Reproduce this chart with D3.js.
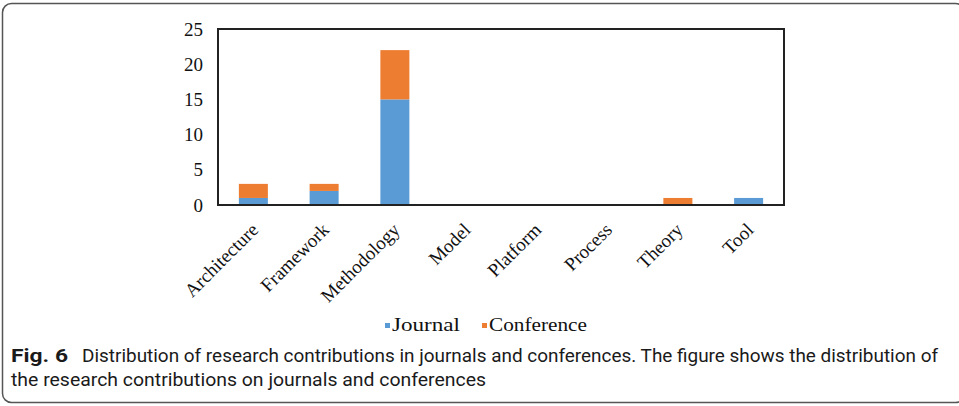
<!DOCTYPE html>
<html>
<head>
<meta charset="utf-8">
<script src="https://cdn.jsdelivr.net/npm/d3@7"></script>
<style>
  body { margin: 0; background: #fff; }
  svg { display: block; }
</style>
</head>
<body>
<div id="chart"></div>
<script>
// Data
var categories = ["Architecture", "Framework", "Methodology", "Model", "Platform", "Process", "Theory", "Tool"];
var journal = [1, 2, 15, 0, 0, 0, 0, 1];
var conference = [2, 1, 7, 0, 0, 0, 1, 0];
var seriesNames = ["Journal", "Conference"];
var yTicks = [0, 5, 10, 15, 20, 25];
var captionBold = "Fig. 6";
var captionLine1 = "Distribution of research contributions in journals and conferences. The figure shows the distribution of";
var captionLine2 = "the research contributions on journals and conferences";

var svgWidth = 959;
var svgHeight = 406;
var margin = { top: 29, right: 175, bottom: 201, left: 218 };
var width = svgWidth - margin.left - margin.right;
var height = svgHeight - margin.top - margin.bottom;
var colors = ["#5b9bd5", "#ed7d31"];

var svg = d3.select("#chart")
  .append("svg")
  .attr("width", svgWidth)
  .attr("height", svgHeight);

// outer figure frame
svg.append("rect")
  .attr("x", 2.5)
  .attr("y", 3.5)
  .attr("width", 962)
  .attr("height", 399)
  .attr("rx", 9)
  .attr("fill", "none")
  .attr("stroke", "#555")
  .attr("stroke-width", 1.5);

var chartGroup = svg.append("g")
  .attr("transform", `translate(${margin.left}, ${margin.top})`);

// Stack data
var rows = categories.map(function(c, i) {
  return { category: c, Journal: journal[i], Conference: conference[i] };
});
var stacked = d3.stack().keys(seriesNames)(rows);

// Scales
var xBandScale = d3.scaleBand()
  .domain(categories)
  .range([0, width])
  .paddingInner(0.59)
  .paddingOuter(0.295);

var yLinearScale = d3.scaleLinear()
  .domain([0, 25])
  .range([height, 0]);

// Bars
chartGroup.selectAll("g.series")
  .data(stacked)
  .enter()
  .append("g")
  .attr("class", "series")
  .attr("fill", (d, i) => colors[i])
  .selectAll("rect")
  .data(d => d)
  .enter()
  .append("rect")
  .attr("x", d => xBandScale(d.data.category))
  .attr("y", d => yLinearScale(d[1]))
  .attr("width", xBandScale.bandwidth())
  .attr("height", d => yLinearScale(d[0]) - yLinearScale(d[1]));

// Plot frame
chartGroup.append("rect")
  .attr("x", 0)
  .attr("y", 0)
  .attr("width", width)
  .attr("height", height)
  .attr("fill", "none")
  .attr("stroke", "#222")
  .attr("stroke-width", 2);

// Y axis
var leftAxis = d3.axisLeft(yLinearScale)
  .tickValues(yTicks)
  .tickSize(0)
  .tickPadding(15);

var yAxisG = chartGroup.append("g").call(leftAxis);
yAxisG.select(".domain").remove();
yAxisG.selectAll("text")
  .attr("fill", "#111")
  .style("font-family", "'Liberation Serif', serif")
  .style("font-size", "19px");

// X axis
var bottomAxis = d3.axisBottom(xBandScale).tickSize(0).tickPadding(0);
var xAxisG = chartGroup.append("g")
  .attr("transform", `translate(0, ${height})`)
  .call(bottomAxis);
xAxisG.select(".domain").remove();
xAxisG.selectAll("text")
  .attr("fill", "#111")
  .attr("text-anchor", "end")
  .attr("dy", "0")
  .attr("y", 0)
  .attr("transform", "translate(6, 26) rotate(-45)")
  .style("font-family", "'Liberation Serif', serif")
  .style("font-size", "19px");

// Legend
var legendItems = [
  { name: "Journal", x: 385, len: 68 },
  { name: "Conference", x: 482, len: 98 }
];
var legend = svg.selectAll("g.legend")
  .data(legendItems)
  .enter()
  .append("g")
  .attr("class", "legend")
  .attr("transform", d => `translate(${d.x}, 331)`);

legend.append("rect")
  .attr("x", 0)
  .attr("y", -8)
  .attr("width", 5)
  .attr("height", 5)
  .attr("fill", (d, i) => colors[i]);

legend.append("text")
  .attr("x", 7)
  .attr("y", 0)
  .attr("fill", "#111")
  .attr("textLength", d => d.len)
  .attr("lengthAdjust", "spacingAndGlyphs")
  .style("font-family", "'Liberation Serif', serif")
  .style("font-size", "19px")
  .text(d => d.name);

// Caption
var caption = svg.append("g")
  .style("font-family", "Roboto, sans-serif")
  .style("font-size", "18px")
  .attr("fill", "#1a1a1a");

caption.append("text")
  .attr("x", 11)
  .attr("y", 362)
  .style("font-weight", "bold")
  .attr("textLength", 57)
  .attr("lengthAdjust", "spacingAndGlyphs")
  .text(captionBold);

caption.append("text")
  .attr("x", 82)
  .attr("y", 362)
  .attr("textLength", 856)
  .attr("lengthAdjust", "spacingAndGlyphs")
  .text(captionLine1);

caption.append("text")
  .attr("x", 11)
  .attr("y", 386)
  .attr("textLength", 475)
  .attr("lengthAdjust", "spacingAndGlyphs")
  .text(captionLine2);
</script>
</body>
</html>
